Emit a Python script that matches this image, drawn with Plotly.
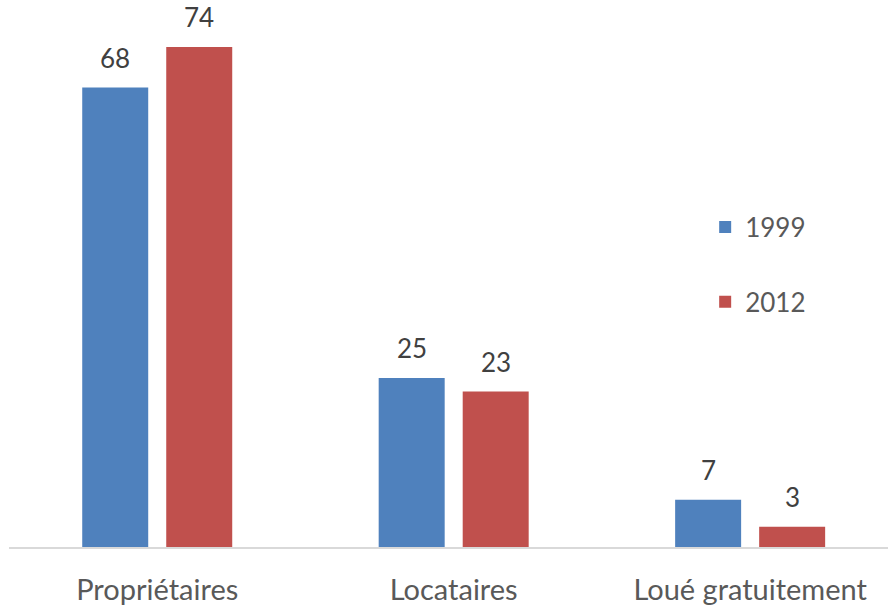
import plotly.graph_objects as go

categories = ["Propriétaires", "Locataires", "Loué gratuitement"]
series_names = ["1999", "2012"]
values_1999 = [68, 25, 7]
values_2012 = [74, 23, 3]
colors = ["#4F81BD", "#C0504D"]

FONT = "Lato"
TEXT_COLOR = "#595959"
BAR_WIDTH = 0.2226
OFFSETS = [-0.253, 0.0304]

fig = go.Figure()
annotations = []
for name, vals, color, off in zip(series_names, [values_1999, values_2012], colors, OFFSETS):
    fig.add_trace(go.Bar(
        name=name,
        x=list(range(len(categories))),
        y=vals,
        width=BAR_WIDTH,
        offset=off,
        marker=dict(color=color, line=dict(width=0)),
        legendgroup=name,
    ))
    for i, v in enumerate(vals):
        annotations.append(dict(
            x=i + off + BAR_WIDTH / 2, y=v, xref="x", yref="y",
            text=str(v), showarrow=False, yanchor="bottom", yshift=12,
            font=dict(family=FONT, size=26, color="#404040"),
        ))

fig.update_layout(
    width=888, height=605,
    margin=dict(l=9, r=0, t=0, b=58),
    paper_bgcolor="white", plot_bgcolor="white",
    barmode="overlay",
    showlegend=True,
    legend=dict(
        x=0.792, y=0.628, xanchor="left", yanchor="top",
        font=dict(family=FONT, size=26, color=TEXT_COLOR),
        tracegroupgap=38, bgcolor="rgba(0,0,0,0)",
    ),
    annotations=annotations,
    xaxis=dict(
        tickmode="array", tickvals=list(range(len(categories))), ticktext=categories,
        range=[-0.5, 2.465], showgrid=False, zeroline=False,
        showline=True, linecolor="#D9D9D9", linewidth=2,
        ticks="", tickfont=dict(family=FONT, size=29, color=TEXT_COLOR),
        ticklabelstandoff=16,
    ),
    yaxis=dict(range=[0, 80.95], visible=False),
)

fig.write_html("out.html")
